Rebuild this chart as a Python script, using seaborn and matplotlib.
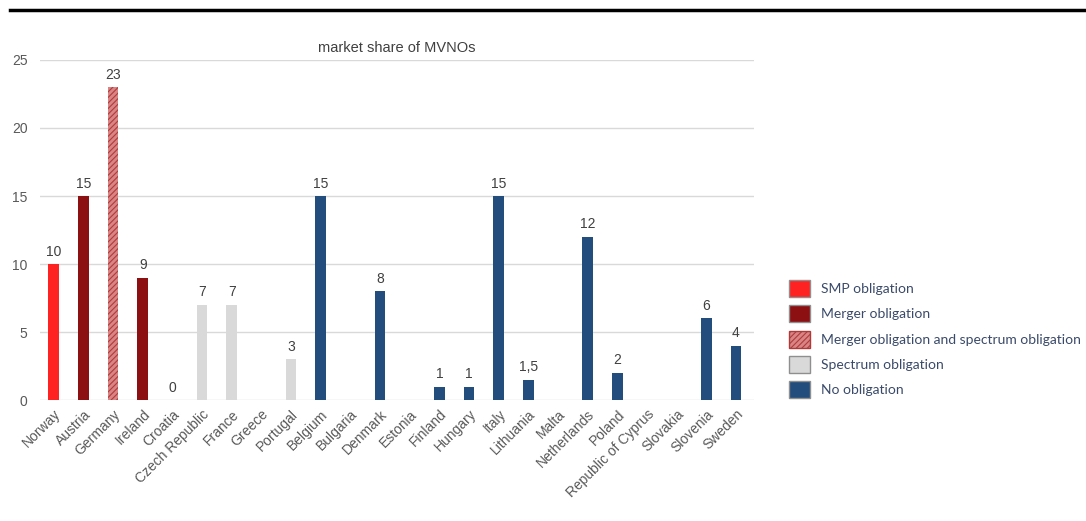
import numpy as np
import pandas as pd
import matplotlib
matplotlib.use("Agg")
import matplotlib.pyplot as plt
from matplotlib.lines import Line2D
from matplotlib.patches import Patch
import seaborn as sns

# Data
countries = ["Norway", "Austria", "Germany", "Ireland", "Croatia", "Czech Republic",
             "France", "Greece", "Portugal", "Belgium", "Bulgaria", "Denmark", "Estonia",
             "Finland", "Hungary", "Italy", "Lithuania", "Malta", "Netherlands", "Poland",
             "Republic of Cyprus", "Slovakia", "Slovenia", "Sweden"]
shares = [10, 15, 23, 9, 0, 7, 7, np.nan, 3, 15, np.nan, 8, np.nan,
          1, 1, 15, 1.5, np.nan, 12, 2, np.nan, np.nan, 6, 4]
obligation = ["SMP", "Merger", "Merger+Spectrum", "Merger", "Spectrum", "Spectrum",
              "Spectrum", "Spectrum", "Spectrum", "None", "None", "None", "None",
              "None", "None", "None", "None", "None", "None", "None",
              "None", "None", "None", "None"]

legend_labels = ["SMP obligation", "Merger obligation",
                 "Merger obligation and spectrum obligation",
                 "Spectrum obligation", "No obligation"]
levels = ["SMP", "Merger", "Merger+Spectrum", "Spectrum", "None"]
colors = {"SMP": "#ff2222", "Merger": "#8c0f12", "Merger+Spectrum": "#d98585",
          "Spectrum": "#d9d9d9", "None": "#224d7c"}

df = pd.DataFrame({"country": countries, "share": shares, "obligation": obligation})

plt.rcParams["font.family"] = ["Liberation Sans", "DejaVu Sans"]
plt.rcParams["hatch.linewidth"] = 0.8

fig = plt.figure(figsize=(10.86, 5.21), dpi=100)
ax = fig.add_axes([0.037, 0.232, 0.657, 0.653])

sns.barplot(data=df, x="country", y="share", hue="obligation", hue_order=levels,
            palette=colors, dodge=False, width=0.36, legend=False, ax=ax,
            saturation=1)

# hatch the merger + spectrum bar
for p in ax.patches:
    cx = p.get_x() + p.get_width() / 2
    if abs(cx - countries.index("Germany")) < 0.3 and p.get_height() > 0:
        p.set_hatch("//////")
        p.set_edgecolor("#b03a3a")
        p.set_linewidth(0)

# value labels
for i, v in enumerate(shares):
    if np.isnan(v):
        continue
    txt = f"{v:g}".replace(".", ",")
    ax.text(i, v + 0.4, txt, ha="center", va="bottom", fontsize=10, color="#404040")

ax.set_ylim(0, 25)
ax.set_xlim(-0.46, len(countries) - 0.4)
ax.set_yticks([0, 5, 10, 15, 20, 25])
ax.yaxis.grid(True, color="#d9d9d9", linewidth=1)
ax.set_axisbelow(True)
for s in ax.spines.values():
    s.set_visible(False)
ax.tick_params(axis="both", length=0, colors="#595959", labelsize=10)
ax.tick_params(axis="y", pad=9)
ax.tick_params(axis="x", pad=5)
plt.setp(ax.get_xticklabels(), rotation=45, ha="right", rotation_mode="anchor")
ax.set_xlabel("")
ax.set_ylabel("")
ax.set_title("market share of MVNOs", fontsize=10.5, color="#404040", pad=6)

handles = []
for lvl in levels:
    if lvl == "Merger+Spectrum":
        handles.append(Patch(facecolor=colors[lvl], edgecolor="#b03a3a", hatch="//////"))
    else:
        handles.append(Patch(facecolor=colors[lvl], edgecolor="#8f8f8f"))
leg = fig.legend(handles, legend_labels, loc="center left",
                 bbox_to_anchor=(0.715, 0.349), frameon=False,
                 handlelength=1.5, handleheight=1.5, labelspacing=0.6,
                 fontsize=10, labelcolor="#3a4a6a")
for t in leg.get_texts():
    t.set_family(["Lato", "DejaVu Sans"])

# black rule along the top
fig.add_artist(Line2D([0.009, 1.0], [0.981, 0.981], color="black", linewidth=2.5))

plt.savefig("out.png", dpi=100)
plt.close()
